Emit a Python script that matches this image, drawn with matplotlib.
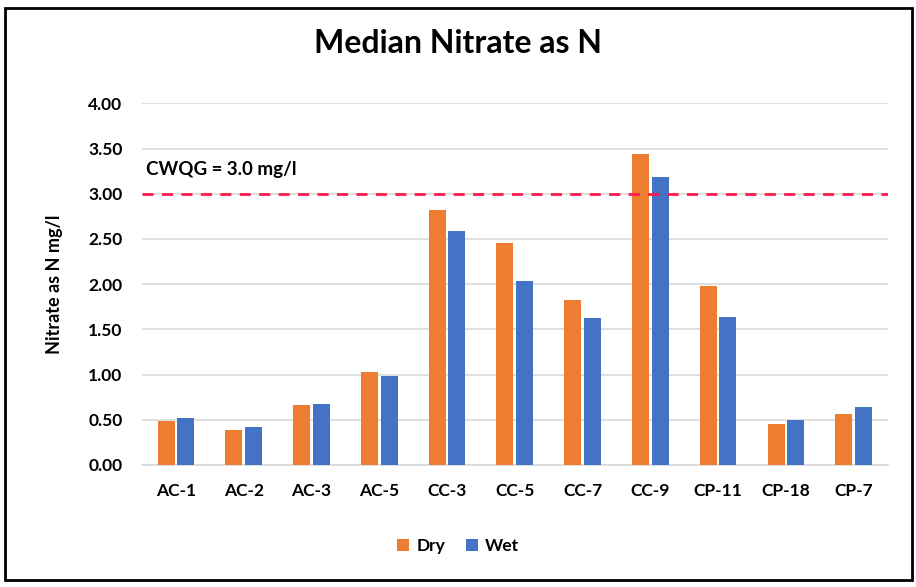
import numpy as np
import matplotlib.pyplot as plt
from matplotlib.patches import Rectangle

sites = ['AC-1', 'AC-2', 'AC-3', 'AC-5', 'CC-3', 'CC-5', 'CC-7', 'CC-9', 'CP-11', 'CP-18', 'CP-7']
dry = [0.49, 0.39, 0.66, 1.03, 2.82, 2.45, 1.82, 3.44, 1.98, 0.45, 0.56]
wet = [0.52, 0.42, 0.67, 0.98, 2.59, 2.03, 1.63, 3.18, 1.64, 0.50, 0.645]
guideline = 3.0

plt.rcParams['font.family'] = ['Lato', 'DejaVu Sans']

fig = plt.figure(figsize=(9.16, 5.87), dpi=100)
ax = fig.add_axes([0.155, 0.208, 0.814, 0.616])

x = np.arange(len(sites))
w = 0.25
ax.bar(x - 0.145, dry, width=w, color='#ED7D31', label='Dry', zorder=3)
ax.bar(x + 0.145, wet, width=w, color='#4472C4', label='Wet', zorder=3)

# guideline
ax.axhline(guideline, color='#FF1A4B', linestyle=(0, (4, 3)), linewidth=2, zorder=4)
ax.text(0.005, 3.27, 'CWQG = 3.0 mg/l', fontsize=13.5, color='black', va='center', ha='left',
        transform=ax.get_yaxis_transform(), fontweight='bold')

ax.set_xlim(-0.5, len(sites) - 0.5)
ax.set_ylim(0, 4.0)
ax.set_yticks(np.arange(0, 4.01, 0.5))
ax.set_yticklabels(['%.2f' % v for v in np.arange(0, 4.01, 0.5)])
ax.set_xticks(x)
ax.set_xticklabels(sites)
ax.yaxis.grid(True, color='#D9D9D9', linewidth=1.2, zorder=0)
ax.set_axisbelow(True)
for s in ['top', 'right', 'left']:
    ax.spines[s].set_visible(False)
ax.spines['bottom'].set_color('#D9D9D9')
ax.spines['bottom'].set_linewidth(1.2)
ax.tick_params(axis='both', length=0, labelsize=12.5, pad=13)
ax.tick_params(axis='y', pad=14)
for lbl in ax.get_xticklabels() + ax.get_yticklabels():
    lbl.set_fontweight('bold')

ax.set_ylabel('Nitrate as N mg/l', fontsize=13, fontweight='bold', labelpad=18)
fig.suptitle('Median Nitrate as N', fontsize=23, fontweight='bold', y=0.95)

fig.legend(loc='lower center', bbox_to_anchor=(0.5, 0.03), ncol=2, frameon=False,
           prop={'weight': 'bold', 'size': 12.5}, handlelength=0.7, handleheight=0.7,
           columnspacing=1.2, handletextpad=0.4)

# outer border
fig.patches.append(Rectangle((0.006, 0.012), 0.99, 0.975, transform=fig.transFigure,
                             fill=False, edgecolor='black', linewidth=2))

plt.savefig('out.png')
